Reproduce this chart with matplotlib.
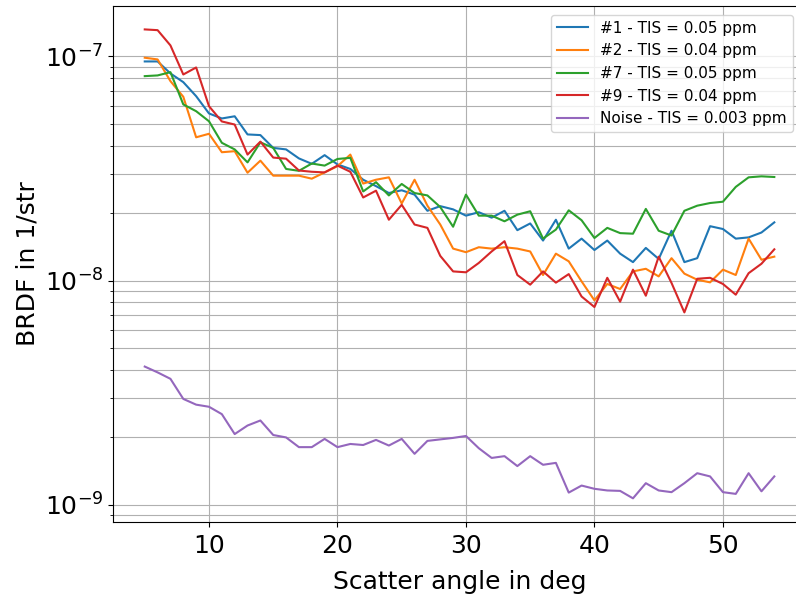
import numpy as np
import matplotlib
matplotlib.use("Agg")
import matplotlib.pyplot as plt

# scatter angles in deg
angle = np.arange(5, 55)

s1 = [9.50e-8, 9.50e-8, 8.40e-8, 7.68e-8, 6.65e-8, 5.57e-8, 5.29e-8, 5.41e-8, 4.49e-8, 4.46e-8,
      3.91e-8, 3.85e-8, 3.51e-8, 3.32e-8, 3.63e-8, 3.30e-8, 3.15e-8, 2.82e-8, 2.64e-8, 2.46e-8,
      2.53e-8, 2.42e-8, 2.05e-8, 2.15e-8, 2.08e-8, 1.95e-8, 2.02e-8, 1.91e-8, 2.05e-8, 1.68e-8,
      1.80e-8, 1.51e-8, 1.87e-8, 1.39e-8, 1.54e-8, 1.37e-8, 1.51e-8, 1.32e-8, 1.21e-8, 1.40e-8,
      1.25e-8, 1.67e-8, 1.21e-8, 1.26e-8, 1.75e-8, 1.70e-8, 1.54e-8, 1.56e-8, 1.64e-8, 1.82e-8]

s2 = [9.87e-8, 9.70e-8, 7.76e-8, 6.61e-8, 4.36e-8, 4.52e-8, 3.74e-8, 3.78e-8, 3.03e-8, 3.43e-8,
      2.94e-8, 2.94e-8, 2.94e-8, 2.85e-8, 3.04e-8, 3.24e-8, 3.65e-8, 2.71e-8, 2.82e-8, 2.89e-8,
      2.21e-8, 2.82e-8, 2.16e-8, 1.78e-8, 1.39e-8, 1.34e-8, 1.41e-8, 1.39e-8, 1.41e-8, 1.39e-8,
      1.35e-8, 1.06e-8, 1.32e-8, 1.22e-8, 9.93e-9, 8.17e-9, 9.67e-9, 9.18e-9, 1.10e-8, 1.13e-8,
      1.045e-8, 1.26e-8, 1.075e-8, 1.01e-8, 9.83e-9, 1.12e-8, 1.06e-8, 1.54e-8, 1.24e-8, 1.28e-8]

s7 = [8.17e-8, 8.23e-8, 8.51e-8, 6.11e-8, 5.70e-8, 5.14e-8, 4.12e-8, 3.85e-8, 3.37e-8, 4.14e-8,
      3.91e-8, 3.15e-8, 3.09e-8, 3.33e-8, 3.26e-8, 3.49e-8, 3.53e-8, 2.50e-8, 2.75e-8, 2.40e-8,
      2.70e-8, 2.46e-8, 2.40e-8, 2.13e-8, 1.74e-8, 2.42e-8, 1.95e-8, 1.95e-8, 1.84e-8, 1.97e-8,
      2.04e-8, 1.54e-8, 1.69e-8, 2.06e-8, 1.86e-8, 1.55e-8, 1.72e-8, 1.63e-8, 1.62e-8, 2.09e-8,
      1.67e-8, 1.59e-8, 2.05e-8, 2.16e-8, 2.22e-8, 2.25e-8, 2.62e-8, 2.89e-8, 2.92e-8, 2.90e-8]

s9 = [1.32e-7, 1.31e-7, 1.12e-7, 8.31e-8, 8.93e-8, 6.00e-8, 5.13e-8, 4.97e-8, 3.65e-8, 4.17e-8,
      3.54e-8, 3.50e-8, 3.10e-8, 3.06e-8, 3.04e-8, 3.26e-8, 3.06e-8, 2.35e-8, 2.52e-8, 1.87e-8,
      2.18e-8, 1.78e-8, 1.72e-8, 1.29e-8, 1.10e-8, 1.09e-8, 1.20e-8, 1.35e-8, 1.50e-8, 1.06e-8,
      9.6e-9, 1.10e-8, 9.8e-9, 1.07e-8, 8.5e-9, 7.63e-9, 1.03e-8, 8.06e-9, 1.12e-8, 8.57e-9,
      1.28e-8, 9.77e-9, 7.22e-9, 1.02e-8, 1.03e-8, 9.67e-9, 8.66e-9, 1.08e-8, 1.19e-8, 1.38e-8]

noise = [4.14e-9, 3.90e-9, 3.65e-9, 2.97e-9, 2.80e-9, 2.74e-9, 2.54e-9, 2.07e-9, 2.26e-9, 2.38e-9,
         2.05e-9, 2.00e-9, 1.81e-9, 1.81e-9, 1.97e-9, 1.81e-9, 1.87e-9, 1.85e-9, 1.95e-9, 1.84e-9,
         1.97e-9, 1.69e-9, 1.93e-9, 1.96e-9, 1.99e-9, 2.03e-9, 1.79e-9, 1.62e-9, 1.65e-9, 1.49e-9,
         1.65e-9, 1.51e-9, 1.54e-9, 1.135e-9, 1.22e-9, 1.18e-9, 1.16e-9, 1.155e-9, 1.07e-9, 1.25e-9,
         1.16e-9, 1.14e-9, 1.25e-9, 1.385e-9, 1.34e-9, 1.14e-9, 1.12e-9, 1.385e-9, 1.15e-9, 1.34e-9]

labels = ["#1 - TIS = 0.05 ppm", "#2 - TIS = 0.04 ppm", "#7 - TIS = 0.05 ppm",
          "#9 - TIS = 0.04 ppm", "Noise - TIS = 0.003 ppm"]

fig = plt.figure(figsize=(7.96, 5.97), dpi=100)
ax = fig.add_axes([0.1423, 0.126, 0.870, 0.864])

for data, lab in zip([s1, s2, s7, s9, noise], labels):
    ax.plot(angle, data, label=lab)

ax.set_yscale("log")
ax.grid(True, which="both")
ax.set_xlabel("Scatter angle in deg", fontsize=18, labelpad=9)
ax.set_ylabel("BRDF in 1/str", fontsize=18)
ax.tick_params(labelsize=18)
ax.tick_params(axis="x", pad=5)
ax.legend(loc="upper right", bbox_to_anchor=(0.992, 0.998), fontsize=11)

fig.savefig("out.png", dpi=100)
